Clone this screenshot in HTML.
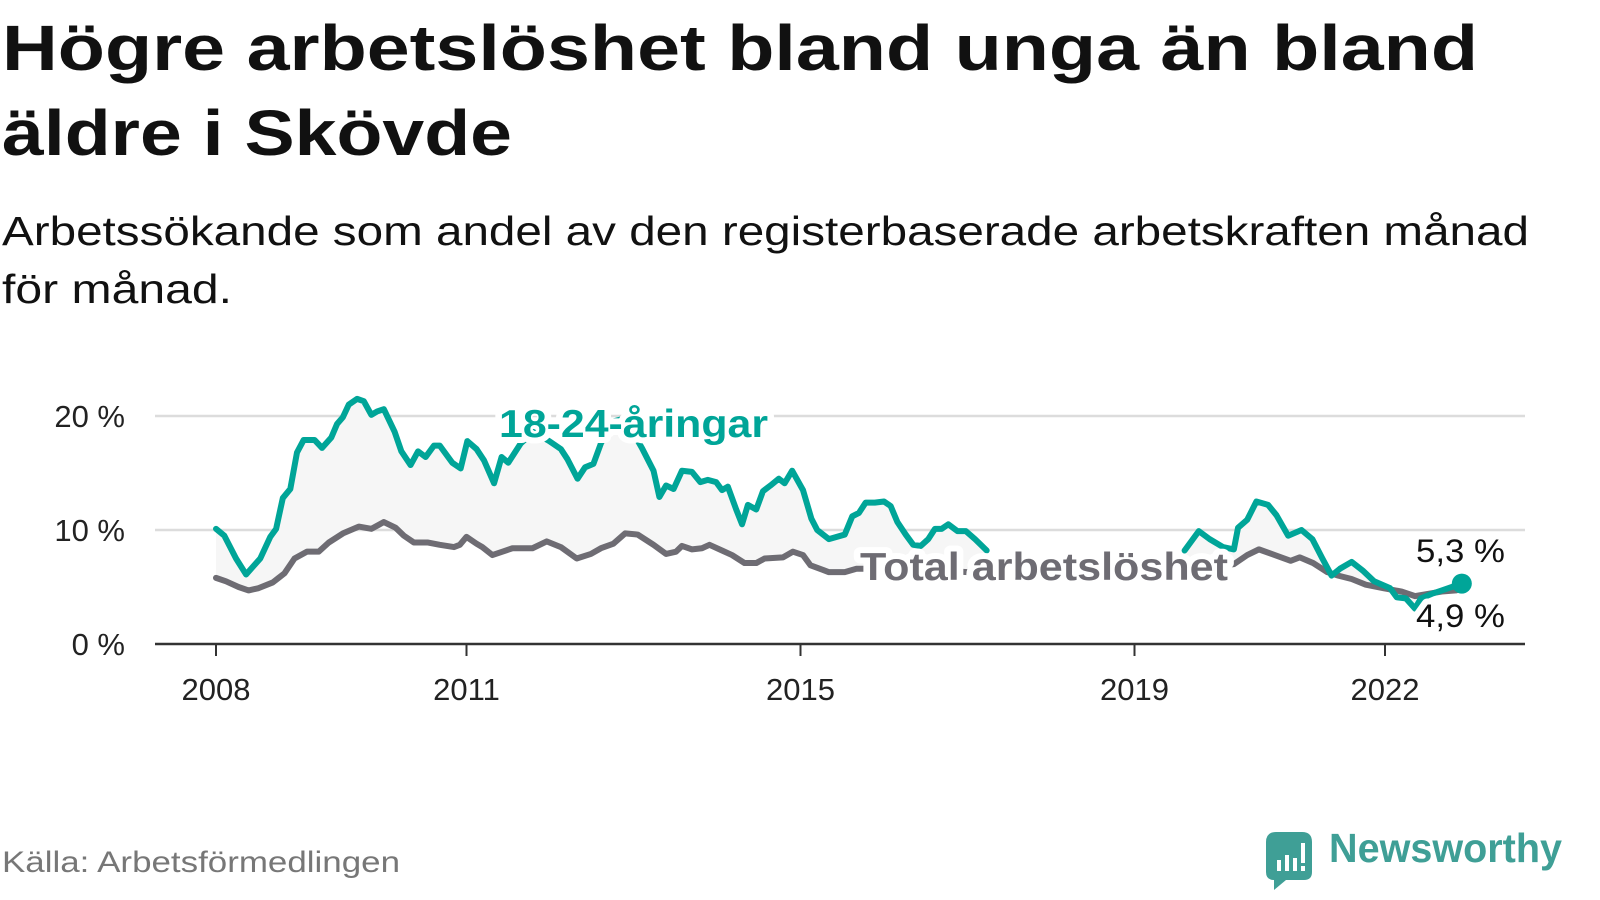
<!DOCTYPE html>
<html><head><meta charset="utf-8"><style>
html,body{margin:0;padding:0;background:#fff;width:1600px;height:900px;overflow:hidden}
svg{display:block;font-family:"Liberation Sans","DejaVu Sans",sans-serif}
</style></head><body>
<svg id="chart" width="1600" height="900" viewBox="0 0 1600 900">
<text x="2" y="70" font-size="64" font-weight="bold" fill="#111" textLength="1476" lengthAdjust="spacingAndGlyphs">Högre arbetslöshet bland unga än bland</text>
<text x="2" y="155" font-size="64" font-weight="bold" fill="#111" textLength="510" lengthAdjust="spacingAndGlyphs">äldre i Skövde</text>
<text x="2" y="245" font-size="41" fill="#111" textLength="1527" lengthAdjust="spacingAndGlyphs">Arbetssökande som andel av den registerbaserade arbetskraften månad</text>
<text x="2" y="303" font-size="41" fill="#111" textLength="230" lengthAdjust="spacingAndGlyphs">för månad.</text>
<g id="plot"></g>
<text x="2" y="872" font-size="30" fill="#777" textLength="398" lengthAdjust="spacingAndGlyphs">Källa: Arbetsförmedlingen</text>
<g>
<path d="M1266,842 q0,-10 10,-10 h26 q10,0 10,10 v30 q0,8 -8,8 h-18 l-12,10 v-10 q-8,0 -8,-8z" fill="#3f9f96"/>
<rect x="1277" y="860" width="4" height="11" fill="#fff"/><rect x="1285" y="855" width="4" height="16" fill="#fff"/><rect x="1293" y="858" width="4" height="13" fill="#fff"/><rect x="1301" y="843" width="4" height="20" fill="#fff"/><rect x="1301" y="866" width="4" height="5" fill="#fff"/>
<text x="1329" y="862" font-size="41" font-weight="bold" fill="#3f9f96" textLength="233" lengthAdjust="spacingAndGlyphs">Newsworthy</text>
</g>
</svg>
<script>
const yTicks=[0,10,20];
const yTickLabels=["0 %","10 %","20 %"];
const xTicks=[2008,2011,2015,2019,2022];
const xTickLabels=["2008","2011","2015","2019","2022"];
const youthDates=[2008.0,2008.1,2008.24,2008.36,2008.53,2008.65,2008.72,2008.8,2008.89,2008.97,2009.05,2009.18,2009.27,2009.38,2009.45,2009.52,2009.59,2009.69,2009.77,2009.86,2009.93,2010.01,2010.14,2010.22,2010.33,2010.42,2010.51,2010.61,2010.68,2010.83,2010.93,2011.01,2011.12,2011.21,2011.33,2011.42,2011.5,2011.65,2011.8,2011.99,2012.13,2012.21,2012.33,2012.42,2012.52,2012.61,2012.75,2012.9,2013.1,2013.24,2013.31,2013.39,2013.48,2013.58,2013.7,2013.8,2013.89,2013.99,2014.06,2014.13,2014.23,2014.3,2014.37,2014.47,2014.55,2014.64,2014.74,2014.81,2014.9,2015.03,2015.13,2015.2,2015.34,2015.53,2015.62,2015.7,2015.78,2015.89,2016.0,2016.08,2016.16,2016.26,2016.35,2016.44,2016.53,2016.61,2016.69,2016.77,2016.88,2016.98,2017.09,2017.23,2017.3,2019.55,2019.6,2019.77,2019.9,2020.06,2020.19,2020.24,2020.35,2020.46,2020.6,2020.7,2020.84,2021.0,2021.13,2021.25,2021.36,2021.46,2021.6,2021.74,2021.87,2022.06,2022.14,2022.25,2022.36,2022.43,2022.56,2022.68,2022.8,2022.92];
const youthValues=[10.1,9.5,7.5,6.1,7.5,9.4,10.1,12.8,13.6,16.8,17.9,17.9,17.2,18.1,19.3,19.9,21.0,21.5,21.3,20.1,20.4,20.6,18.6,16.9,15.7,16.9,16.4,17.4,17.4,15.9,15.4,17.8,17.1,16.1,14.1,16.4,15.9,17.6,18.6,17.8,17.1,16.2,14.5,15.5,15.8,17.6,19.5,19.8,17.2,15.2,12.9,13.9,13.6,15.2,15.1,14.2,14.4,14.2,13.5,13.8,11.8,10.5,12.2,11.8,13.4,13.9,14.5,14.1,15.2,13.5,11.0,10.0,9.2,9.6,11.2,11.5,12.4,12.4,12.5,12.1,10.7,9.6,8.7,8.6,9.2,10.1,10.1,10.5,9.9,9.9,9.2,8.2,null,null,8.2,9.9,9.2,8.5,8.3,10.2,10.9,12.5,12.2,11.3,9.5,10.0,9.2,7.5,6.0,6.6,7.2,6.4,5.5,4.9,4.1,4.0,3.1,4.0,4.4,4.7,5.0,5.3];
const totalDates=[2008.0,2008.12,2008.27,2008.39,2008.51,2008.68,2008.75,2008.82,2008.94,2009.09,2009.23,2009.35,2009.52,2009.71,2009.86,2010.01,2010.15,2010.25,2010.37,2010.54,2010.68,2010.85,2010.92,2011.0,2011.12,2011.19,2011.31,2011.43,2011.55,2011.79,2011.96,2012.13,2012.32,2012.49,2012.61,2012.76,2012.9,2013.05,2013.24,2013.39,2013.51,2013.58,2013.7,2013.82,2013.91,2014.06,2014.18,2014.33,2014.47,2014.57,2014.79,2014.91,2015.03,2015.12,2015.27,2015.34,2015.53,2015.67,2016.0,2016.5,2017.0,2017.23,2017.3,2019.55,2019.6,2019.9,2020.19,2020.35,2020.49,2020.68,2020.87,2020.98,2021.14,2021.31,2021.44,2021.6,2021.77,2021.98,2022.2,2022.36,2022.52,2022.68,2022.85,2022.92];
const totalValues=[5.8,5.5,5.0,4.7,4.9,5.4,5.8,6.2,7.5,8.1,8.1,8.9,9.7,10.3,10.1,10.7,10.2,9.5,8.9,8.9,8.7,8.5,8.7,9.4,8.8,8.5,7.8,8.1,8.4,8.4,9.0,8.5,7.5,7.9,8.4,8.8,9.7,9.6,8.7,7.9,8.1,8.6,8.3,8.4,8.7,8.2,7.8,7.1,7.1,7.5,7.6,8.1,7.8,6.9,6.5,6.3,6.3,6.6,6.6,6.5,6.3,6.2,null,null,6.5,6.8,7.0,7.8,8.3,7.8,7.3,7.6,7.1,6.3,6.0,5.7,5.2,4.9,4.6,4.2,4.4,4.6,4.7,4.9];
const NS="http://www.w3.org/2000/svg";
const plot=document.getElementById('plot');
const X0=155,X1=1525;
function xs(y){return 216+(y-2008)*83.5;}
function ys(v){return 644-v*11.4;}
function mk(tag,attrs,parent){const e=document.createElementNS(NS,tag);for(const k in attrs)e.setAttribute(k,attrs[k]);(parent||plot).appendChild(e);return e;}
// gridlines & y labels
yTicks.forEach((t,i)=>{
  if(t>0){const g=mk('line',{x1:X0,x2:X1,y1:ys(t),y2:ys(t),stroke:'#dcdcdc','stroke-width':2.5});
  
  }
  const l=mk('text',{x:125,y:ys(t)+11,'font-size':31,fill:'#222','text-anchor':'end'});
  l.textContent=yTickLabels[i];
  
  
});
// segments helper
function segments(d,v){const segs=[];let cur=[];d.forEach((x,i)=>{if(v[i]==null){if(cur.length)segs.push(cur);cur=[];}else cur.push([x,v[i]]);});if(cur.length)segs.push(cur);return segs;}
const ys1=segments(youthDates,youthValues), ts1=segments(totalDates,totalValues);
// area between lines
ys1.forEach((s,i)=>{const t=ts1[i];if(!t)return;
  let p='M'+s.map(q=>xs(q[0])+','+ys(q[1])).join('L');
  p+='L'+t.slice().reverse().map(q=>xs(q[0])+','+ys(q[1])).join('L')+'Z';
  const a=mk('path',{d:p,fill:'#f6f6f6'});
  
  
});
// axis
const ax=mk('line',{x1:X0,x2:X1,y1:644,y2:644,stroke:'#333','stroke-width':2.5});


xTicks.forEach((t,i)=>{
  const tk=mk('line',{x1:xs(t),x2:xs(t),y1:644,y2:656,stroke:'#333','stroke-width':2});
  
  
  const l=mk('text',{x:xs(t),y:700,'font-size':31,fill:'#222','text-anchor':'middle'});
  l.textContent=xTickLabels[i];
  
  
});
function line(segs,color,name){segs.forEach(s=>{
  const p=mk('path',{d:'M'+s.map(q=>xs(q[0])+','+ys(q[1])).join('L'),fill:'none',stroke:color,'stroke-width':6,'stroke-linejoin':'round','stroke-linecap':'round'});
  
  
});}
line(ts1,'#6e6c73','total-unemployment-line');
line(ys1,'#00a598','youth-unemployment-line');
const lx=youthDates[youthDates.length-1], lv=youthValues[youthValues.length-1];
const dot=mk('circle',{cx:xs(lx),cy:ys(lv),r:10,fill:'#00a598'});


function label(txt,x,y,size,color,bold,name,len){
  const t=mk('text',{x:x,y:y,'font-size':size,fill:color,'font-weight':bold?'bold':'normal',stroke:'#fff','stroke-width':12,'stroke-linejoin':'round','paint-order':'stroke'});
  if(len){t.setAttribute('textLength',len);t.setAttribute('lengthAdjust','spacingAndGlyphs');}
  t.textContent=txt;
  
  
}
label('18-24-åringar',499,437,39,'#00a598',true,'youth-series-label',269);
label('Total arbetslöshet',860,580,39,'#6e6c73',true,'total-series-label',368);
label(lv.toFixed(1).replace('.',',')+' %',1416,562,32,'#111',false,'youth-end-value',89);
const tv=totalValues[totalValues.length-1];
label(tv.toFixed(1).replace('.',',')+' %',1416,627,32,'#111',false,'total-end-value',89);
</script>
</body></html>
